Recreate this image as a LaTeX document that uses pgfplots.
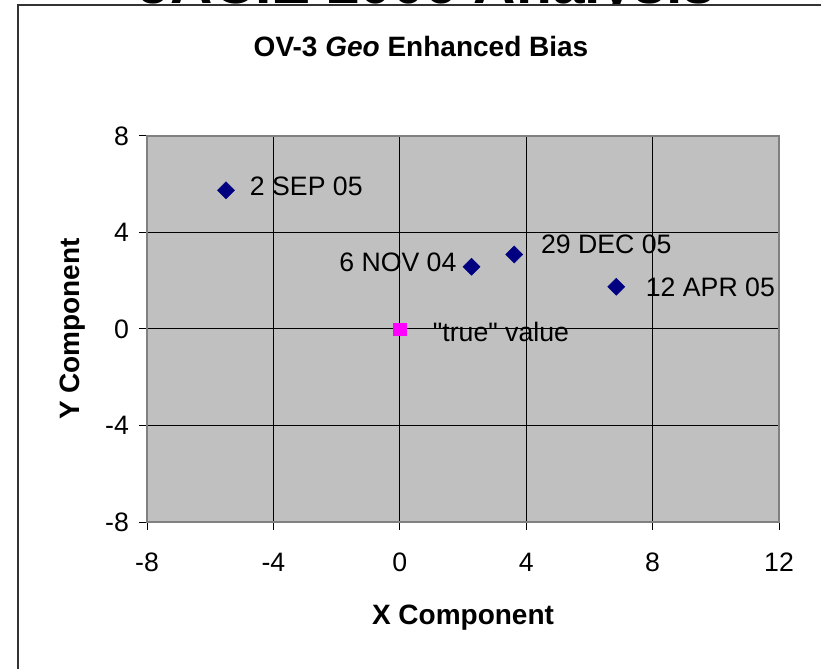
\documentclass[border=0pt]{standalone}
\usepackage{pgfplots}
\pgfplotsset{compat=1.18}
\usepackage{fontspec}
\setmainfont{Liberation Sans}
\definecolor{plotgray}{RGB}{192,192,192}
\definecolor{bordergray}{RGB}{128,128,128}
\definecolor{navy}{RGB}{0,0,128}
\definecolor{magentax}{RGB}{255,0,255}
\begin{document}
\begin{tikzpicture}
\useasboundingbox (0,0) rectangle (615.75pt,501pt);
\clip (0,0) rectangle (615.75pt,501pt);
% cut-off slide title behind the chart
\node[anchor=base, inner sep=0pt, font=\fontsize{44}{48}\selectfont\bfseries] at (320pt,498pt) {JACIE 2006 Analysis};
% chart frame
\draw[line width=1.1pt, draw=black!80, fill=white] (13.5pt,-20pt) rectangle (640pt,497.25pt);
% chart title
\node[font=\fontsize{21}{25}\selectfont\bfseries, inner sep=0pt] at (315.75pt,465.75pt) {OV-3 \textit{Geo} Enhanced Bias};
\begin{axis}[
  at={(110.25pt,109.5pt)}, anchor=south west,
  scale only axis, width=474pt, height=289.5pt,
  xmin=-8, xmax=12, ymin=-8, ymax=8,
  xtick={-8,-4,...,12}, ytick={-8,-4,...,8},
  axis background/.style={fill=plotgray},
  axis line style={draw=bordergray, line width=1.6pt},
  grid=major, major grid style={draw=black, line width=0.75pt},
  tick style={draw=black, line width=0.75pt},
  tick align=outside, tick pos=left, major tick length=6pt,
  /pgf/number format/assume math mode=true,
  ticklabel style={font=\fontsize{20}{24}\selectfont},
  xticklabel style={yshift=-13.5pt},
  yticklabel style={xshift=-4pt},
  xlabel={X Component}, ylabel={Y Component},
  label style={font=\fontsize{21}{25}\selectfont\bfseries},
  xlabel style={yshift=-18pt},
  ylabel style={yshift=8pt},
  clip=false,
]
\addplot[only marks, mark=square*, mark size=4.5pt, mark options={rotate=45, fill=navy, draw=navy}] coordinates {
 (-5.5,5.75) (2.27,2.58) (3.62,3.09) (6.85,1.75)
};
\addplot[only marks, mark=square*, mark size=4.6pt, mark options={fill=magentax, draw=magentax}] coordinates {
 (0,0)
};
\begin{scope}[every node/.style={font=\fontsize{20}{24}\selectfont, inner sep=0pt}]
\node[anchor=west] at (axis cs:-4.75,5.93) {2 SEP 05};
\node[anchor=east] at (axis cs:1.80,2.78) {6 NOV 04};
\node[anchor=west] at (axis cs:4.46,3.53) {29 DEC 05};
\node[anchor=west] at (axis cs:7.78,1.74) {12 APR 05};
\node[anchor=west] at (axis cs:1.04,-0.12) {\textquotedbl true\textquotedbl\ value};
\end{scope}
\end{axis}
\end{tikzpicture}
\end{document}
